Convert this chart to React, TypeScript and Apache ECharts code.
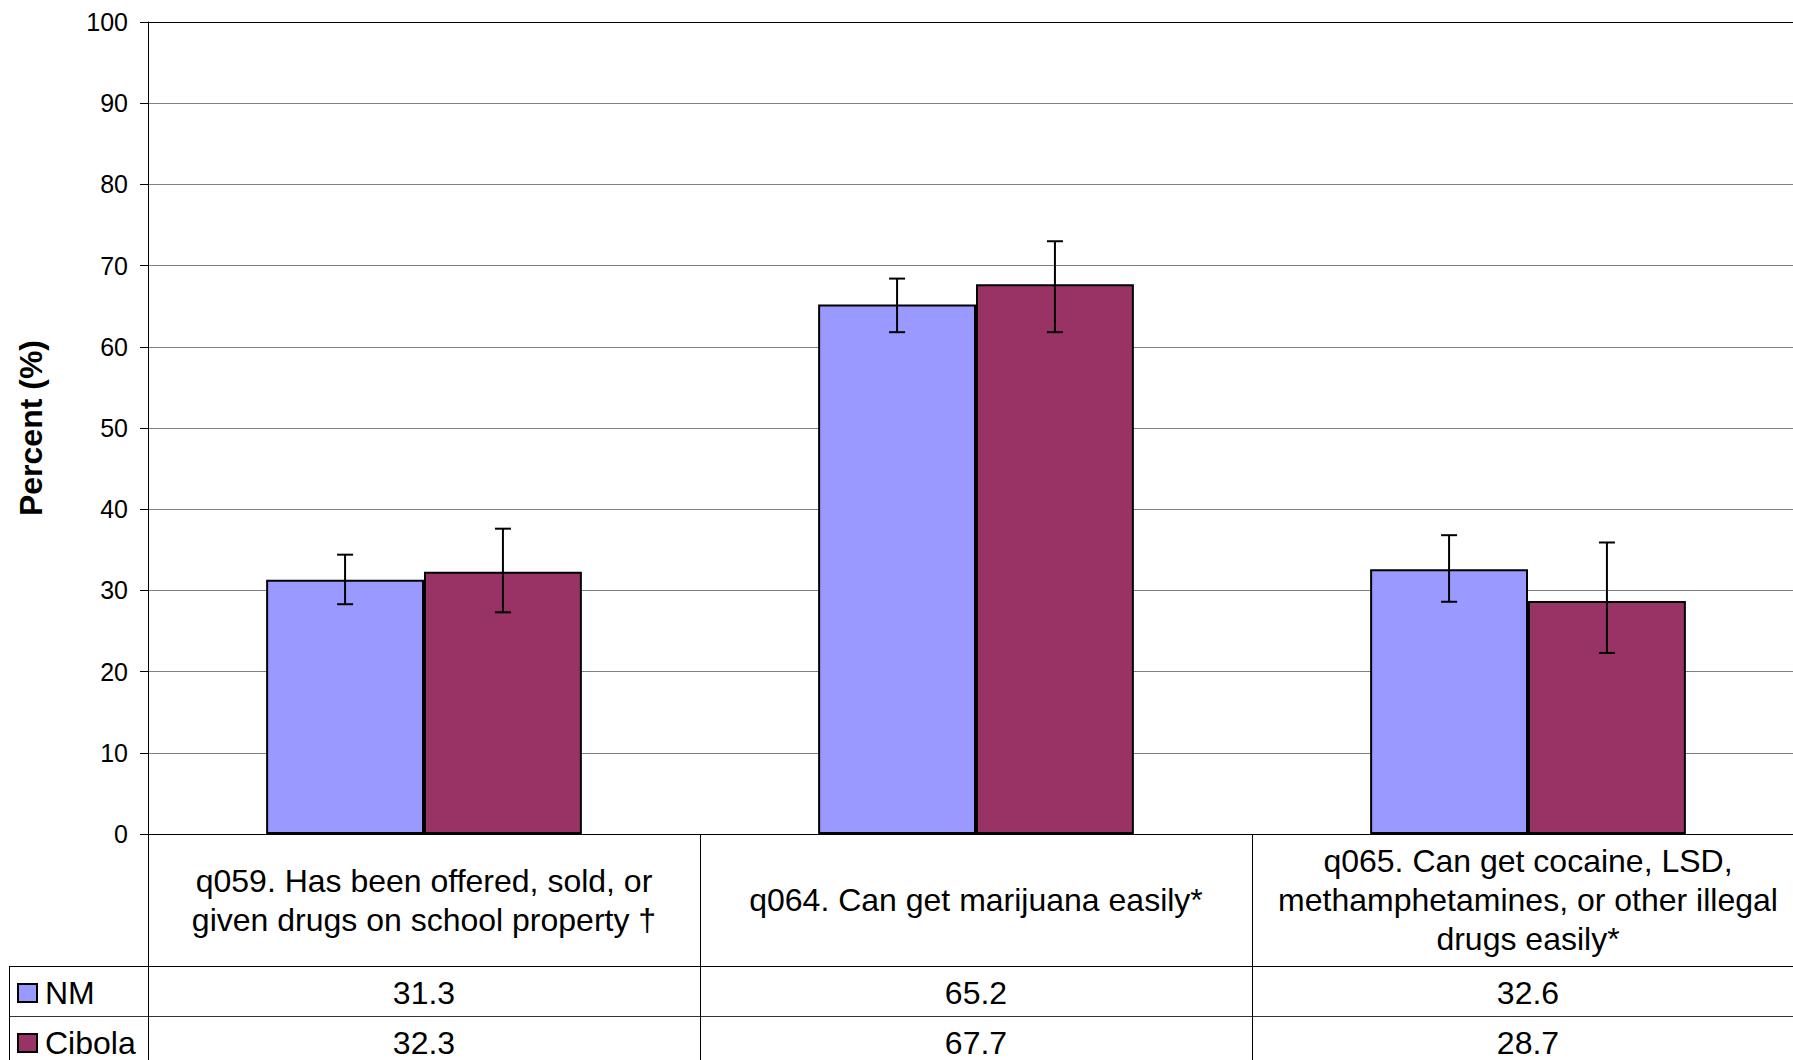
import React, { useEffect, useRef } from 'react';
import * as echarts from 'echarts';

const categories = [
  'q059. Has been offered, sold, or\ngiven drugs on school property †',
  'q064. Can get marijuana easily*',
  'q065. Can get cocaine, LSD,\nmethamphetamines, or other illegal\ndrugs easily*',
];
const seriesNames = ['NM', 'Cibola'];
const nmValues = [31.3, 65.2, 32.6];
const cibolaValues = [32.3, 67.7, 28.7];
const nmLow = [28.3, 61.8, 28.6];
const nmHigh = [34.4, 68.4, 36.8];
const cibolaLow = [27.3, 61.8, 22.3];
const cibolaHigh = [37.6, 73.0, 35.9];
const yMin = 0;
const yMax = 100;
const yInterval = 10;
const yAxisTitle = 'Percent (%)';
const seriesColors = ['#9999FF', '#993366'];

const FONT = '"Liberation Sans", Arial, sans-serif';
const CAT_GAP = 0.428;

function errorSeries(name: string, low: number[], high: number[], side: number) {
  return {
    name: name + ' CI',
    type: 'custom',
    z: 10,
    silent: true,
    data: low.map((l, i) => [i, l, high[i]]),
    renderItem: (params: any, api: any) => {
      const i = api.value(0);
      const lo = api.coord([i, api.value(1)]);
      const hi = api.coord([i, api.value(2)]);
      const cat = api.size([1, 0])[0];
      const bw = (cat * (1 - CAT_GAP)) / 2;
      const x = lo[0] + (side * bw) / 2;
      const cap = 8;
      const st = { stroke: '#000', lineWidth: 2 };
      return {
        type: 'group',
        children: [
          { type: 'line', shape: { x1: x, y1: lo[1], x2: x, y2: hi[1] }, style: st },
          { type: 'line', shape: { x1: x - cap, y1: hi[1], x2: x + cap, y2: hi[1] }, style: st },
          { type: 'line', shape: { x1: x - cap, y1: lo[1], x2: x + cap, y2: lo[1] }, style: st },
        ],
      };
    },
  };
}

export default function App() {
  const ref = useRef<HTMLDivElement>(null);
  useEffect(() => {
    if (!ref.current) return;
    const chart = echarts.init(ref.current, undefined, { renderer: 'svg' });
    const gridColors = [];
    for (let v = yMin; v <= yMax; v += yInterval) gridColors.push(v === yMax ? '#000000' : '#808080');
    const option: any = {
      animation: false,
      textStyle: { fontFamily: FONT },
      legend: { show: false },
      grid: { left: 148, right: -11, top: 22, bottom: 226, containLabel: false, outerBoundsMode: 'none' },
      xAxis: {
        type: 'category',
        data: categories,
        axisLine: { lineStyle: { color: '#000', width: 1 } },
        axisTick: { show: true, length: 240, lineStyle: { color: '#000', width: 1 } },
        axisLabel: {
          interval: 0,
          color: '#000',
          fontSize: 32,
          lineHeight: 39,
          fontFamily: FONT,
          margin: 66,
          verticalAlign: 'middle',
          align: 'center',
        },
        splitLine: { show: false },
      },
      yAxis: {
        type: 'value',
        min: yMin,
        max: yMax,
        interval: yInterval,
        name: yAxisTitle,
        nameLocation: 'middle',
        nameRotate: 90,
        nameGap: 101,
        nameTextStyle: { fontSize: 32, fontWeight: 'bold', color: '#000', fontFamily: FONT },
        axisLine: { show: true, lineStyle: { color: '#000', width: 1 } },
        axisTick: { show: true, inside: false, length: 8, lineStyle: { color: '#000' } },
        axisLabel: { color: '#000', fontSize: 25, margin: 20, fontFamily: FONT },
        splitLine: { show: true, lineStyle: { color: gridColors, width: 1 } },
      },
      series: [
        {
          name: seriesNames[0],
          type: 'bar',
          data: nmValues,
          barGap: '0%',
          barCategoryGap: (CAT_GAP * 100).toFixed(1) + '%',
          itemStyle: { color: seriesColors[0], borderColor: '#000', borderWidth: 2 },
        },
        {
          name: seriesNames[1],
          type: 'bar',
          data: cibolaValues,
          barGap: '0%',
          barCategoryGap: (CAT_GAP * 100).toFixed(1) + '%',
          itemStyle: { color: seriesColors[1], borderColor: '#000', borderWidth: 2 },
        },
        errorSeries(seriesNames[0], nmLow, nmHigh, -1),
        errorSeries(seriesNames[1], cibolaLow, cibolaHigh, 1),
      ],
    };
    chart.setOption(option);

    // Data table below the axis
    const base = chart.convertToPixel({ gridIndex: 0 }, [0, 0]) as number[];
    const axisY = base[1];
    const headerH = 132;
    const rowH = 50;
    const row1Top = axisY + headerH;
    const row2Top = row1Top + rowH;
    const W = 1793;
    const H = 1060;
    const tableLeft = 9.5;
    const rows = [nmValues, cibolaValues];
    const graphic: any[] = [
      { type: 'line', shape: { x1: tableLeft, y1: Math.round(row1Top) + 0.5, x2: W, y2: Math.round(row1Top) + 0.5 }, style: { stroke: '#000', lineWidth: 1 } },
      { type: 'line', shape: { x1: tableLeft, y1: Math.round(row2Top) + 0.5, x2: W, y2: Math.round(row2Top) + 0.5 }, style: { stroke: '#333', lineWidth: 1 } },
      { type: 'line', shape: { x1: tableLeft, y1: row1Top, x2: tableLeft, y2: H }, style: { stroke: '#000', lineWidth: 1 } },
    ];
    rows.forEach((vals, r) => {
      const cy = row1Top + r * rowH + rowH / 2 + 2;
      graphic.push({
        type: 'rect',
        shape: { x: 18, y: cy - 9, width: 19, height: 18 },
        style: { fill: seriesColors[r], stroke: '#000', lineWidth: 2 },
      });
      graphic.push({
        type: 'text',
        x: 45,
        y: cy,
        style: { text: seriesNames[r], fill: '#000', fontSize: 32, fontFamily: FONT, align: 'left', verticalAlign: 'middle' },
      });
      vals.forEach((v, i) => {
        const px = chart.convertToPixel({ gridIndex: 0 }, [i, 0]) as number[];
        graphic.push({
          type: 'text',
          x: px[0],
          y: cy,
          style: { text: v.toFixed(1), fill: '#000', fontSize: 32, fontFamily: FONT, align: 'center', verticalAlign: 'middle' },
        });
      });
    });
    chart.setOption({ graphic });
    return () => chart.dispose();
  }, []);
  return <div ref={ref} style={{ position: 'absolute', left: 0, top: 0, width: 1793, height: 1060 }} />;
}
